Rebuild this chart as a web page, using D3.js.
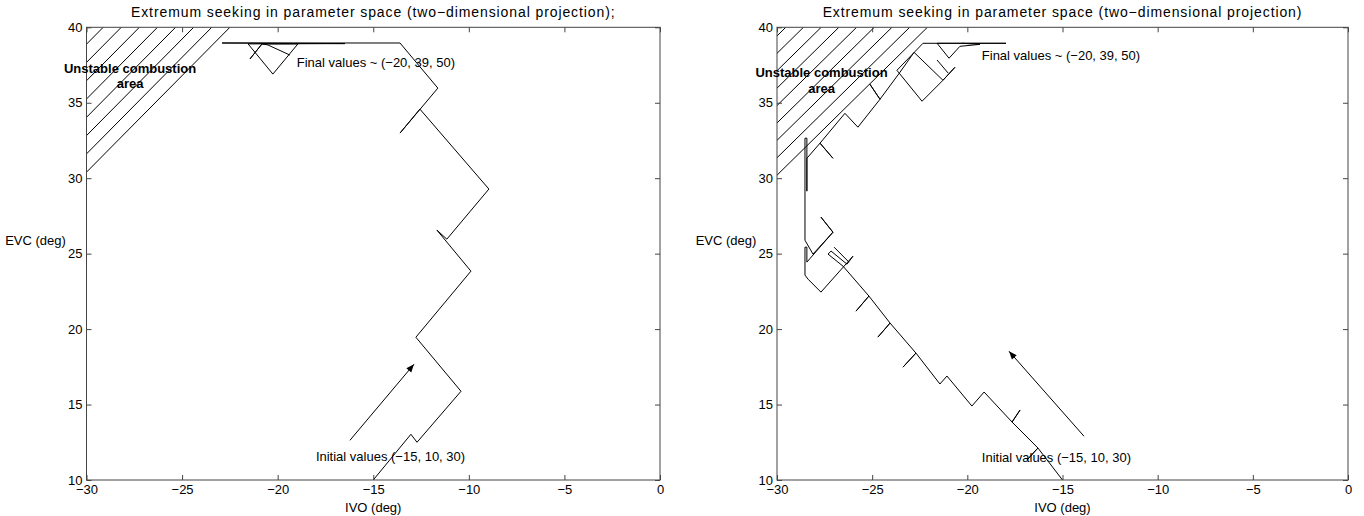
<!DOCTYPE html>
<html>
<head>
<meta charset="utf-8">
<script src="https://cdn.jsdelivr.net/npm/d3@7"></script>
<style>
body { margin: 0; background: #fff; }
text { font-family: "Liberation Sans", Arial, sans-serif; font-size: 13px; fill: #000; }
.traj { fill: none; stroke: #000; stroke-width: 1; }
.axis line { stroke: #444; }
.axis path { display: none; }
.axis text { font-family: "Liberation Sans", Arial, sans-serif; font-size: 13px; fill: #000; }
.title { font-size: 14px; letter-spacing: 0.9px; }
</style>
</head>
<body>
<script>
var w = 1364,
    h = 516;

var xTicks = [-30, -25, -20, -15, -10, -5, 0];
var yTicks = [10, 15, 20, 25, 30, 35, 40];

var titles = [
    "Extremum seeking in parameter space (two\u2212dimensional projection);",
    "Extremum seeking in parameter space (two\u2212dimensional projection)"
];

// left plot: (IVO, EVC) trajectory
var leftPath = [
    [-15.0, 10.0], [-13.03, 13.03], [-12.71, 12.50], [-10.41, 15.88], [-12.77, 19.46],
    [-9.89, 23.84], [-11.67, 26.56], [-11.15, 25.96], [-8.95, 29.28], [-12.56, 34.58],
    [-13.60, 32.99], [-11.62, 35.97], [-13.60, 38.96], [-22.91, 38.96], [-16.48, 38.92],
    [-21.55, 38.9], [-20.25, 36.90], [-18.94, 38.9], [-20.82, 38.9], [-21.45, 37.90],
    [-20.82, 38.9], [-20.51, 38.83], [-19.36, 38.16]
];
var leftExtra = [];
var leftArrow = [[-16.22, 12.63], [-12.87, 17.67]];
var leftHatch = [[-30, 30.4], [-22.5, 40]];
var leftNotes = [
    {text: "Final values ~ (\u221220, 39, 50)", x: -19.0, y: 37.68},
    {text: "Initial values (\u221215, 10, 30)", x: -18.0, y: 11.53}
];
var leftArea = [
    {text: "Unstable combustion", x: -27.72, y: 37.28},
    {text: "area", x: -27.72, y: 36.29}
];

// right plot
var rightPath = [
    [-15.0, 10.0], [-16.29, 12.12], [-16.87, 11.32], [-16.29, 12.12], [-17.65, 13.84],
    [-17.23, 14.64], [-17.65, 13.84], [-19.12, 15.83], [-19.76, 14.90], [-21.07, 16.89],
    [-21.44, 16.36], [-22.70, 18.41], [-23.38, 17.48], [-22.70, 18.41], [-24.06, 20.40],
    [-24.70, 19.47], [-24.06, 20.40], [-25.17, 22.19], [-25.85, 21.19], [-25.17, 22.19],
    [-26.53, 24.17], [-27.32, 24.97], [-27.16, 25.17], [-26.32, 24.30], [-26.01, 24.83],
    [-27.69, 22.45], [-28.37, 23.31], [-28.53, 23.58], [-28.53, 25.43], [-28.43, 25.43],
    [-28.43, 24.44], [-27.06, 26.42], [-27.69, 27.42], [-27.06, 26.42], [-28.11, 24.97],
    [-28.53, 25.89], [-28.53, 32.65], [-28.43, 32.65], [-28.43, 29.14], [-28.43, 31.32],
    [-27.74, 32.32], [-27.06, 31.32], [-27.74, 32.32], [-26.43, 34.30], [-25.75, 33.38],
    [-24.59, 35.23], [-25.12, 36.23], [-24.59, 35.23], [-23.54, 37.02], [-22.80, 38.34],
    [-21.28, 36.49], [-20.65, 37.35], [-21.28, 36.49], [-22.38, 35.10], [-23.70, 37.15],
    [-22.33, 38.94], [-17.97, 38.94], [-21.59, 38.94], [-20.96, 37.95], [-20.39, 38.74],
    [-19.34, 38.87], [-20.28, 38.94]
];
var rightExtra = [
    [[-27.0, 25.43], [-26.22, 24.44]],
    [[-21.59, 37.83], [-21.01, 36.97]]
];
var rightArrow = [[-13.87, 12.90], [-17.81, 18.53]];
var rightHatch = [[-30, 30.2], [-22.1, 40]];
var rightNotes = [
    {text: "Final values ~ (\u221220, 39, 50)", x: -19.24, y: 38.16},
    {text: "Initial values (\u221215, 10, 30)", x: -19.24, y: 11.49}
];
var rightArea = [
    {text: "Unstable combustion", x: -27.66, y: 36.99},
    {text: "area", x: -27.66, y: 35.96}
];

var panels = [
    {id: "l", left: 86.5, right: 660, title: titles[0], path: leftPath, extra: leftExtra,
     arrow: leftArrow, hatch: leftHatch, notes: leftNotes, area: leftArea, gap: 18.1},
    {id: "r", left: 777, right: 1348, title: titles[1], path: rightPath, extra: rightExtra,
     arrow: rightArrow, hatch: rightHatch, notes: rightNotes, area: rightArea, gap: 17.7}
];

var plotTop = 27.3, plotBottom = 480;

var svg = d3.select("body").append("svg")
    .attr("width", w)
    .attr("height", h);

var defs = svg.append("defs");
defs.append("marker")
    .attr("id", "head")
    .attr("viewBox", "0 -5 10 10")
    .attr("refX", 10)
    .attr("markerUnits", "userSpaceOnUse")
    .attr("markerWidth", 11)
    .attr("markerHeight", 8)
    .attr("orient", "auto")
    .append("path")
    .attr("d", "M0,-4L10,0L0,4Z")
    .attr("fill", "#000");

panels.forEach(function(p) {
    var x = d3.scaleLinear().domain([-30, 0]).range([p.left, p.right]);
    var y = d3.scaleLinear().domain([10, 40]).range([plotBottom, plotTop]);

    defs.append("clipPath")
        .attr("id", "clip" + p.id)
        .append("rect")
        .attr("x", p.left)
        .attr("y", plotTop)
        .attr("width", p.right - p.left)
        .attr("height", plotBottom - plotTop);

    var g = svg.append("g");

    // hatched unstable area
    var hg = g.append("g").attr("clip-path", "url(#clip" + p.id + ")");
    var b0 = [x(p.hatch[0][0]), y(p.hatch[0][1])],
        b1 = [x(p.hatch[1][0]), y(p.hatch[1][1])];
    var slope = (b1[1] - b0[1]) / (b1[0] - b0[0]);
    d3.range(0, 9).forEach(function(i) {
        var d = i * p.gap;
        hg.append("line")
            .attr("x1", b0[0] - d - 40)
            .attr("y1", b0[1] - 40 * slope)
            .attr("x2", b1[0] - d)
            .attr("y2", b1[1])
            .attr("stroke", "#000")
            .attr("stroke-width", 1);
    });

    var line = d3.line()
        .x(function(d) { return x(d[0]); })
        .y(function(d) { return y(d[1]); });

    g.append("path")
        .datum(p.path)
        .attr("class", "traj")
        .attr("d", line);

    p.extra.forEach(function(seg) {
        g.append("path")
            .datum(seg)
            .attr("class", "traj")
            .attr("d", line);
    });

    g.append("path")
        .datum(p.arrow)
        .attr("class", "traj")
        .attr("d", line)
        .attr("marker-end", "url(#head)");

    // axes, ticks pointing inward
    g.append("g").attr("class", "axis")
        .attr("transform", "translate(0," + plotBottom + ")")
        .call(d3.axisBottom(x).tickValues(xTicks).tickSizeInner(-5).tickSizeOuter(0).tickPadding(5));
    g.append("g").attr("class", "axis")
        .attr("transform", "translate(0," + plotTop + ")")
        .call(d3.axisTop(x).tickValues(xTicks).tickSizeInner(-5).tickSizeOuter(0).tickFormat(""));
    g.append("g").attr("class", "axis")
        .attr("transform", "translate(" + p.left + ",0)")
        .call(d3.axisLeft(y).tickValues(yTicks).tickSizeInner(-5).tickSizeOuter(0).tickPadding(4));
    g.append("g").attr("class", "axis")
        .attr("transform", "translate(" + p.right + ",0)")
        .call(d3.axisRight(y).tickValues(yTicks).tickSizeInner(-5).tickSizeOuter(0).tickFormat(""));

    g.append("rect")
        .attr("x", p.left)
        .attr("y", plotTop)
        .attr("width", p.right - p.left)
        .attr("height", plotBottom - plotTop)
        .attr("fill", "none")
        .attr("stroke", "#444")
        .attr("stroke-width", 1);

    g.selectAll(".note")
        .data(p.notes)
        .enter().append("text")
        .attr("x", function(d) { return x(d.x); })
        .attr("y", function(d) { return y(d.y); })
        .attr("dy", "0.35em")
        .text(function(d) { return d.text; });

    g.selectAll(".area")
        .data(p.area)
        .enter().append("text")
        .attr("x", function(d) { return x(d.x); })
        .attr("y", function(d) { return y(d.y); })
        .attr("dy", "0.35em")
        .style("text-anchor", "middle")
        .style("font-weight", "bold")
        .text(function(d) { return d.text; });

    g.append("text")
        .attr("class", "title")
        .attr("x", (p.left + p.right) / 2)
        .attr("y", 16.5)
        .style("text-anchor", "middle")
        .text(p.title);

    g.append("text")
        .attr("x", (p.left + p.right) / 2)
        .attr("y", 511.5)
        .style("text-anchor", "middle")
        .text("IVO (deg)");

    g.append("text")
        .attr("x", p.left - 51)
        .attr("y", 244.5)
        .style("text-anchor", "middle")
        .text("EVC (deg)");
});
</script>
</body>
</html>
